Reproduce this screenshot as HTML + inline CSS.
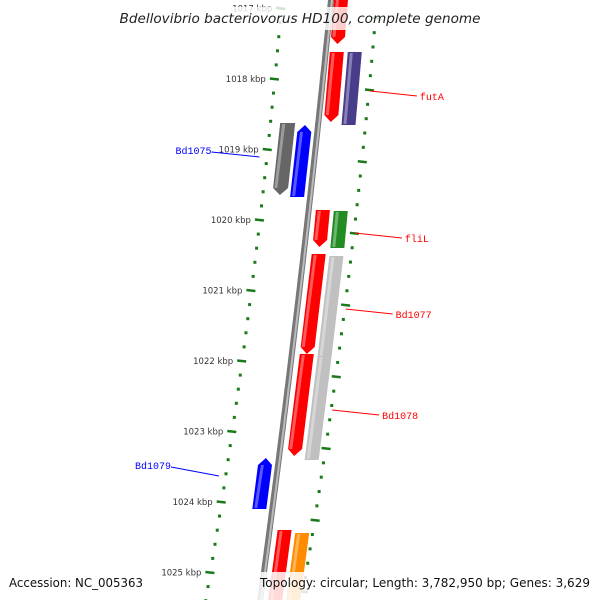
<!DOCTYPE html>
<html><head><meta charset="utf-8"><style>
html,body{margin:0;padding:0;background:#fff;}
svg{display:block;}
</style></head><body>
<svg id="chart" width="600" height="600" viewBox="0 0 600 600" xmlns="http://www.w3.org/2000/svg">
<defs>
<linearGradient id="bbgrad" x1="0" x2="1" y1="0" y2="0">
<stop offset="0" stop-color="#555"/><stop offset="0.5" stop-color="#aaa"/><stop offset="1" stop-color="#666"/>
</linearGradient>
</defs>
<g id="backbone-layer"></g>
<g id="ticks-layer"></g>
<g id="genes-layer"></g>
<g id="labels-layer"></g>
<rect x="114" y="7" width="372" height="23" fill="#fff" fill-opacity="0.8"/>
<text x="300" y="23" text-anchor="middle" font-family="DejaVu Sans, Liberation Sans, sans-serif" font-style="italic" font-size="13" fill="#222" textLength="361" lengthAdjust="spacingAndGlyphs">Bdellovibrio bacteriovorus HD100, complete genome</text>
<rect x="0" y="572" width="152" height="28" fill="#fff" fill-opacity="0.85"/>
<text x="9" y="587" font-family="DejaVu Sans, Liberation Sans, sans-serif" font-size="12" fill="#111" textLength="134" lengthAdjust="spacingAndGlyphs">Accession: NC_005363</text>
<rect x="256" y="572" width="344" height="28" fill="#fff" fill-opacity="0.85"/>
<text x="260" y="587" font-family="DejaVu Sans, Liberation Sans, sans-serif" font-size="12" fill="#111" textLength="330" lengthAdjust="spacingAndGlyphs">Topology: circular; Length: 3,782,950 bp; Genes: 3,629</text>
</svg>
<script>
// ---- data ----
const leftTickKbp = [1017, 1018, 1019, 1020, 1021, 1022, 1023, 1024, 1025, 1026];
const rightTickIdx = [-1, 0, 1, 2, 3, 4, 5, 6, 7];
const geneNames = ["g-top", "g2", "g3", "g4", "Bd1075", "g6", "g7", "Bd1077", "g9", "Bd1078", "g11", "Bd1079", "g13", "g14"];
const geneStart = [-10, 52, 52, 123, 125, 210, 211, 254, 256, 354, 356, 458, 530, 533];
const geneEnd = [44, 122, 125, 195, 197, 247, 248, 354, 358, 456, 460, 509, 615, 615];
const geneStrand = [-1, -1, 0, -1, 1, -1, 0, -1, 0, -1, 0, 1, 0, 0];
const geneTrack = [1, 1, 2, -2, -1, 1, 2, 1, 2, 1, 2, -1, 1, 2];
const geneColor = ["#ff0000", "#ff0000", "#483d8b", "#666666", "#0000ff", "#ff0000", "#228b22", "#ff0000", "#c0c0c0", "#ff0000", "#c0c0c0", "#0000ff", "#ff0000", "#ff8c00"];
const labelText = ["futA", "fliL", "Bd1077", "Bd1078", "Bd1075", "Bd1079"];
const labelY = [91, 233, 309, 410, 152, 467];
const labelSide = [1, 1, 1, 1, -1, -1];

// ---- geometry ----
const NS = "http://www.w3.org/2000/svg";
function xb(y) { return 331 - 0.10 * y - 0.00003 * y * y; }
function xl(y) { return 282 - 0.085 * y - 0.00007 * y * y; }
function xr(y) { return 377 - 0.0824 * y - 0.000072 * y * y; }
function leftKbpY(k) { return 79 + 70.5 * (k - 1018); }
function rightIdxY(i) { return 90 + 71.7 * i; }
function trackOffset(t, y) {
  // offsets from backbone (slightly varying with y)
  const w = 14;
  if (t === 1) { const d0 = 3 + 5 * Math.min(1, y / 250); return [d0, d0 + w]; }
  if (t === 2) { const d0 = 21 + 5 * Math.min(1, y / 250); return [d0, d0 + w]; }
  if (t === -1) return [-20, -6];
  return [-38, -23];
}
function mk(tag, attrs, parent) {
  const el = document.createElementNS(NS, tag);
  for (const k in attrs) el.setAttribute(k, attrs[k]);
  parent.appendChild(el);
  return el;
}

// backbone
const bl = document.getElementById("backbone-layer");
let bp = "";
for (let y = -5; y <= 605; y += 5) bp += (y === -5 ? "M" : "L") + xb(y).toFixed(1) + "," + y + " ";
const bb = mk("path", { d: bp, stroke: "#777", "stroke-width": 6, fill: "none" }, bl);


const bb2 = mk("path", { d: bp, stroke: "#bbb", "stroke-width": 2, fill: "none", transform: "translate(1,0)" }, bl);



// ticks
const tl = document.getElementById("ticks-layer");
const green = "#1a7a1a";
leftTickKbp.forEach(k => {
  const y0 = leftKbpY(k);
  for (let m = 0; m < 5; m++) {
    const y = y0 + m * 14.1;
    if (y < -5 || y > 605) continue;
    const x = xl(y);
    if (m === 0) {
      const t = mk("line", { x1: x - 5, y1: y - 0.5, x2: x + 4, y2: y + 0.5, stroke: green, "stroke-width": 2.5 }, tl);
      
      
      const lab = mk("text", { x: x - 9, y: y + 3, "text-anchor": "end", "font-family": "DejaVu Sans, Liberation Sans, sans-serif", "font-size": 8.5, fill: "#333" }, tl);
      lab.textContent = k + " kbp";
      
      
    } else {
      const t = mk("rect", { x: x - 1.5, y: y - 1.5, width: 3, height: 3, fill: green }, tl);
      
      
    }
  }
});
rightTickIdx.forEach(i => {
  const y0 = rightIdxY(i);
  for (let m = 0; m < 5; m++) {
    const y = y0 + m * 14.34;
    if (y < -5 || y > 605) continue;
    const x = xr(y);
    if (m === 0) {
      const t = mk("line", { x1: x - 4, y1: y - 0.5, x2: x + 5, y2: y + 0.5, stroke: green, "stroke-width": 2.5 }, tl);
      
      
    } else {
      const t = mk("rect", { x: x - 1.5, y: y - 1.5, width: 3, height: 3, fill: green }, tl);
      
      
    }
  }
});

// genes
const gl = document.getElementById("genes-layer");
function lighten(hex, f) {
  const n = parseInt(hex.slice(1), 16);
  let r = n >> 16, g = (n >> 8) & 255, b = n & 255;
  r = Math.round(r + (255 - r) * f); g = Math.round(g + (255 - g) * f); b = Math.round(b + (255 - b) * f);
  return "rgb(" + r + "," + g + "," + b + ")";
}
geneNames.forEach((name, i) => {
  const y1 = geneStart[i], y2 = geneEnd[i], t = geneTrack[i], s = geneStrand[i];
  const [a1, b1] = trackOffset(t, y1), [a2, b2] = trackOffset(t, y2);
  const L1 = xb(y1) + a1, R1 = xb(y1) + b1, L2 = xb(y2) + a2, R2 = xb(y2) + b2;
  let pts;
  const ah = 7;
  if (s === -1) {
    const yb = y2 - ah, [a3, b3] = trackOffset(t, yb);
    const L3 = xb(yb) + a3, R3 = xb(yb) + b3;
    pts = [[L1, y1], [R1, y1], [R3, yb], [(L2 + R2) / 2, y2], [L3, yb]];
  } else if (s === 1) {
    const yt = y1 + ah, [a3, b3] = trackOffset(t, yt);
    const L3 = xb(yt) + a3, R3 = xb(yt) + b3;
    pts = [[(L1 + R1) / 2, y1], [R3, yt], [R2, y2], [L2, y2], [L3, yt]];
  } else {
    pts = [[L1, y1], [R1, y1], [R2, y2], [L2, y2]];
  }
  const g = mk("g", {}, gl);
  
  
  mk("polygon", { points: pts.map(p => p[0].toFixed(1) + "," + p[1].toFixed(1)).join(" "), fill: geneColor[i] }, g);
  // highlight stripe on left side
  const hs = [[L1 + 2, y1 + (s === 1 ? ah : 1)], [L1 + 5, y1 + (s === 1 ? ah : 1)], [L2 + 5, y2 - (s === -1 ? ah : 1)], [L2 + 2, y2 - (s === -1 ? ah : 1)]];
  mk("polygon", { points: hs.map(p => p[0].toFixed(1) + "," + p[1].toFixed(1)).join(" "), fill: lighten(geneColor[i], 0.35) }, g);
});

// labels
const ll = document.getElementById("labels-layer");
labelText.forEach((txt, i) => {
  const y = labelY[i], side = labelSide[i];
  let x1, x2, tx, col;
  if (side === 1) { x1 = xr(y) + 1; x2 = x1 + 47; tx = x2 + 3; col = "#ff0000"; }
  else { x2 = xl(y) - 8; x1 = x2 - 48; tx = x1 - 36; col = "#0000ff"; }
  const ln = mk("line", { x1: x1, y1: y, x2: x2, y2: y + (side === 1 ? 5 : (i === 4 ? 5 : 9)), stroke: col, "stroke-width": 1 }, ll);
  
  
  const t = mk("text", { x: side === 1 ? tx : tx, y: y + (side === 1 ? 9 : 2), "font-family": "Liberation Mono, DejaVu Sans Mono, monospace", "font-size": 10, fill: col }, ll);
  t.textContent = txt;
  
  
});
</script>
</body></html>
